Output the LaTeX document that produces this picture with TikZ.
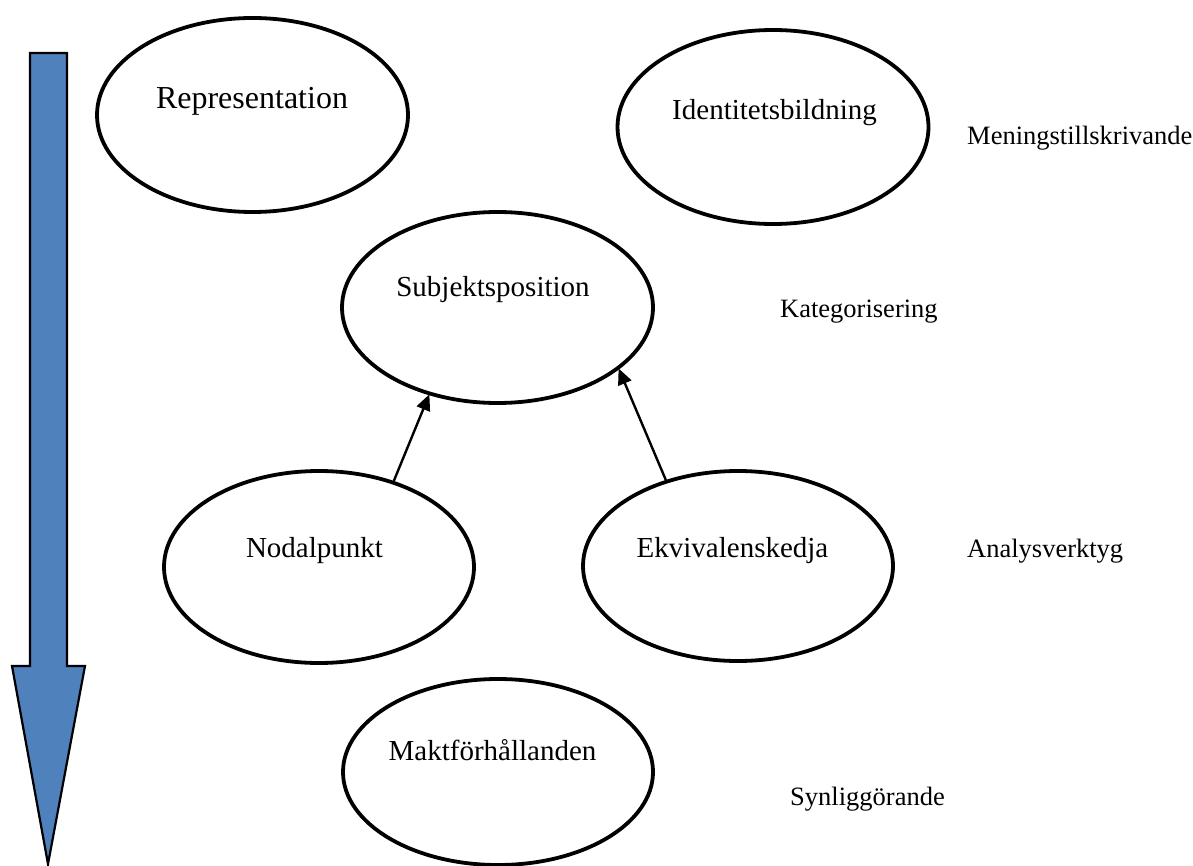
\documentclass[tikz,border=0pt]{standalone}
\usepackage{fontspec}
\setmainfont{Liberation Serif}
\usetikzlibrary{shapes.geometric,arrows.meta}
\definecolor{arrowblue}{HTML}{4F81BD}
\tikzset{
  oval/.style={ellipse, draw=black, line width=3.8pt, inner sep=0pt, fill=white},
  intext/.style={anchor=base, inner sep=0pt, font=\fontsize{29}{34}\selectfont},
  sidetext/.style={anchor=base west, inner sep=0pt, font=\fontsize{26.5}{31}\selectfont},
  conn/.style={line width=2.4pt, -{Triangle[length=16pt, width=14pt]}, shorten >=-1pt},
  bigarrow/.style={fill=arrowblue, draw=black, line width=2.2pt, line join=miter}
}
\begin{document}
\begin{tikzpicture}[x=1pt, y=-1pt]
\useasboundingbox (0,0) rectangle (1193,866);
% big downward arrow
\draw[bigarrow] (30,53) -- (67,53) -- (67,666) -- (85,666) -- (48,864) -- (12,666) -- (30,666) -- cycle;
% ellipses
\node[oval, minimum width=311pt, minimum height=194pt] (rep) at (252.5,115) {};
\node[oval, minimum width=311pt, minimum height=194pt] (ide) at (773,127) {};
\node[oval, minimum width=311pt, minimum height=191pt] (sub) at (497.5,307.5) {};
\node[oval, minimum width=310pt, minimum height=192pt] (nod) at (319,567) {};
\node[oval, minimum width=310pt, minimum height=190pt] (ekv) at (738,566) {};
\node[oval, minimum width=310pt, minimum height=186pt] (mak) at (498,772) {};
% texts inside ellipses
\node[intext, font=\fontsize{32}{38}\selectfont] (repT) at (252,109) {Representation};
\node[intext] (ideT) at (774.5,120) {Identitetsbildning};
\node[intext] (subT) at (493,297) {Subjektsposition};
\node[intext] (nodT) at (314.5,557) {Nodalpunkt};
\node[intext] (ekvT) at (732.5,557) {Ekvivalenskedja};
\node[intext] (makT) at (492.5,760) {Maktförhållanden};
% side labels
\node[sidetext] (l1) at (967,145) {Meningstillskrivande};
\node[sidetext] (l2) at (780,318) {Kategorisering};
\node[sidetext] (l3) at (967,557) {Analysverktyg};
\node[sidetext] (l4) at (790,805) {Synliggörande};
% connectors
\draw[conn] (nod.49) -- (sub.232);
\draw[conn] (ekv.130) -- (sub.333);
\end{tikzpicture}
\end{document}
